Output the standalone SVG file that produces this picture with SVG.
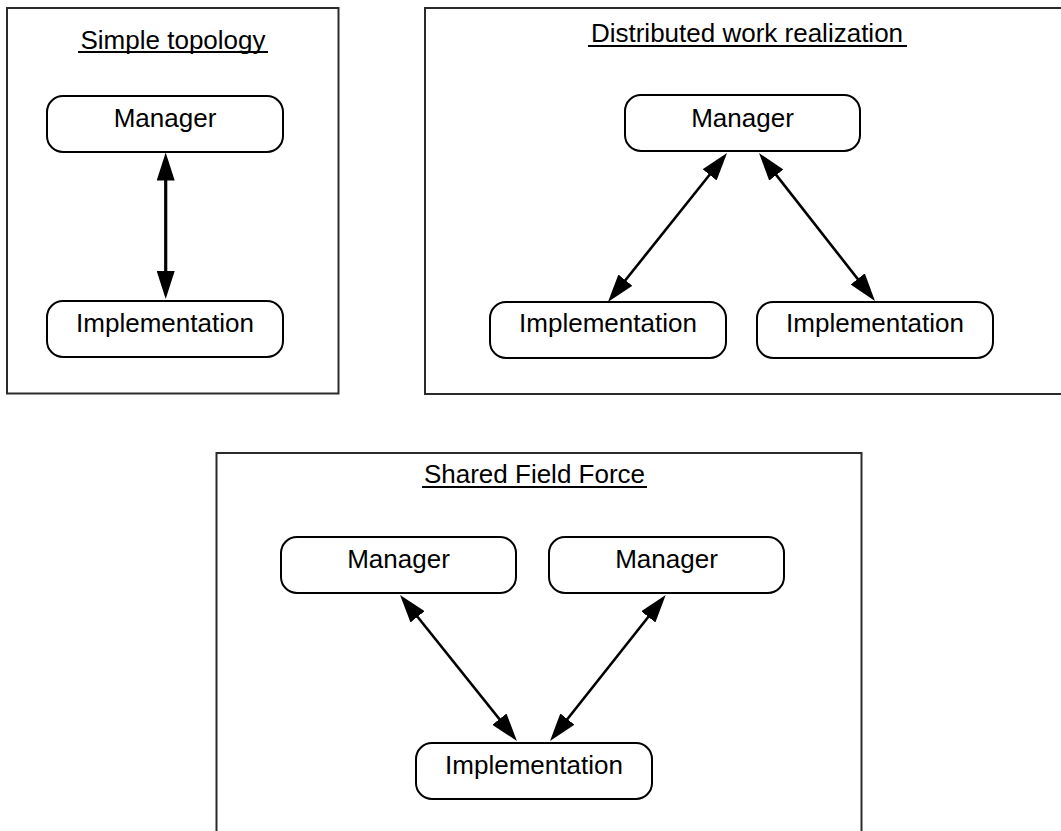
<svg xmlns="http://www.w3.org/2000/svg" width="1061" height="831" viewBox="0 0 1061 831">
<style>
.frame{fill:none;stroke:#2b2b2b;stroke-width:2}
.node{fill:#fff;stroke:#000;stroke-width:2}
.lbl{font-family:"Liberation Sans",Arial,sans-serif;font-size:26px;fill:#000;text-anchor:middle}
.ul{stroke:#000;stroke-width:2}
.conn{stroke:#000;fill:none;marker-start:url(#ah);marker-end:url(#ah)}
</style>
<defs>
<marker id="ah" markerUnits="userSpaceOnUse" markerWidth="28" markerHeight="18" refX="18" refY="9" orient="auto-start-reverse" viewBox="0 0 28 18">
<path d="M0,0 L28,9 L0,18 z" fill="#000"/>
</marker>
</defs>
<rect fill="#fff" x="0" y="0" width="1061" height="831"/>

<g id="panel-simple">
<rect class="frame" x="7" y="8" width="331.5" height="385.5"/>
<text class="lbl" x="173" y="49">Simple topology</text>
<line class="ul" x1="78" y1="52" x2="268" y2="52"/>
</g>
<g id="panel-distributed">
<rect class="frame" x="425" y="8" width="650" height="386"/>
<text class="lbl" x="747" y="42">Distributed work realization</text>
<line class="ul" x1="588" y1="46" x2="907" y2="46"/>
</g>
<g id="panel-shared">
<rect class="frame" x="216.5" y="453" width="645" height="400"/>
<text class="lbl" x="534.5" y="483">Shared Field Force</text>
<line class="ul" x1="422" y1="487" x2="647" y2="487"/>
</g>

<g id="connectors">
<line class="conn" stroke-width="3.2" x1="165.7" y1="162.5" x2="165.7" y2="289"/>
<line class="conn" stroke-width="2.6" x1="720.8" y1="160.8" x2="614.2" y2="294.2"/>
<line class="conn" stroke-width="2.6" x1="765.2" y1="160.9" x2="868.8" y2="293.1"/>
<line class="conn" stroke-width="2.6" x1="406.3" y1="602.8" x2="510.7" y2="733.2"/>
<line class="conn" stroke-width="2.6" x1="659.5" y1="602.8" x2="556.2" y2="733.2"/>
</g>

<g id="s-manager">
<rect class="node" x="47" y="96" width="236" height="56" rx="16"/>
<text class="lbl" x="165" y="127">Manager</text>
</g>
<g id="s-impl">
<rect class="node" x="47" y="301" width="236" height="56" rx="16"/>
<text class="lbl" x="165" y="332">Implementation</text>
</g>

<g id="d-manager">
<rect class="node" x="625" y="95" width="235" height="56" rx="16"/>
<text class="lbl" x="742.5" y="126.5">Manager</text>
</g>
<g id="d-impl-1">
<rect class="node" x="490" y="302" width="236" height="56" rx="16"/>
<text class="lbl" x="608" y="332">Implementation</text>
</g>
<g id="d-impl-2">
<rect class="node" x="757" y="302" width="236" height="56" rx="16"/>
<text class="lbl" x="875" y="332">Implementation</text>
</g>

<g id="f-manager-1">
<rect class="node" x="281" y="537" width="235" height="56" rx="16"/>
<text class="lbl" x="398.5" y="568">Manager</text>
</g>
<g id="f-manager-2">
<rect class="node" x="549" y="537" width="235" height="56" rx="16"/>
<text class="lbl" x="666.5" y="568">Manager</text>
</g>
<g id="f-impl">
<rect class="node" x="416" y="743" width="236" height="56" rx="16"/>
<text class="lbl" x="534" y="774">Implementation</text>
</g>
</svg>
